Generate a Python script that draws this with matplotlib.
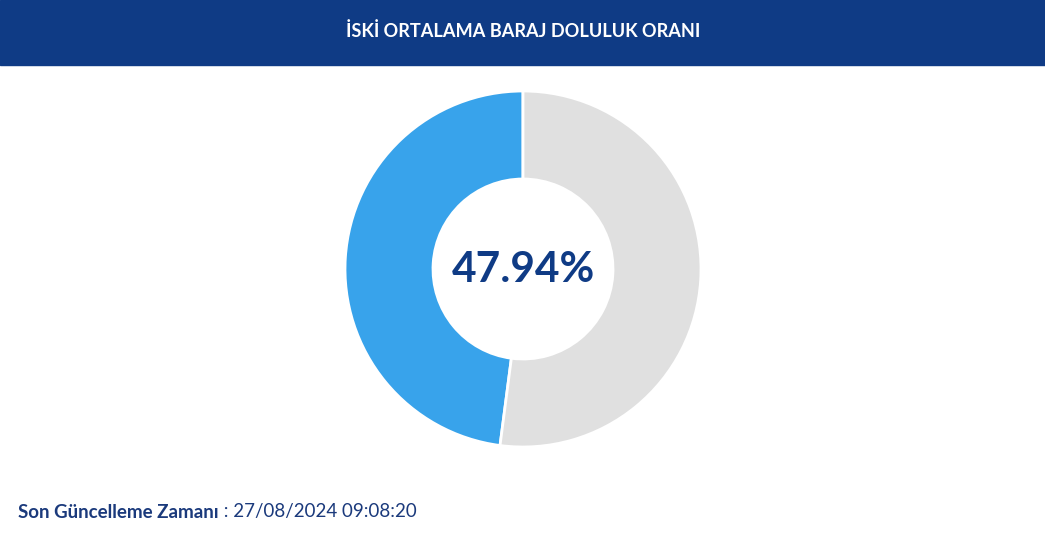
import matplotlib
matplotlib.use("Agg")
import matplotlib.pyplot as plt
from matplotlib.patches import Rectangle

title = "İSKİ ORTALAMA BARAJ DOLULUK ORANI"
labels = ["Dolu", "Boş"]
values = [47.94, 52.06]
colors = ["#38a3eb", "#e0e0e0"]
center_label = "47.94%"
footer_bold = "Son Güncelleme Zamanı"
footer_rest = " : 27/08/2024 09:08:20"

W, H = 1045, 543
fig = plt.figure(figsize=(W / 100, H / 100), dpi=100)
ax = fig.add_axes([0, 0, 1, 1])
ax.set_xlim(0, W)
ax.set_ylim(0, H)
ax.axis("off")

navy = "#0f3b85"
ax.add_patch(Rectangle((0, H - 65), W, 65, color=navy, zorder=0))
ax.text(523, H - 31, title, color="white", fontsize=13.1, fontweight="bold",
        family=["Lato", "DejaVu Sans"], ha="center", va="center")

ax.pie(values, colors=colors, startangle=90, counterclock=True,
       center=(523, H - 269), radius=178, frame=True,
       wedgeprops=dict(width=88, edgecolor="white", linewidth=2))
ax.set_xlim(0, W)
ax.set_ylim(0, H)
ax.set_aspect("auto")
ax.axis("off")

ax.text(523, H - 270, center_label, color=navy, fontsize=30.5, fontweight="bold",
        family=["Lato", "DejaVu Sans"], ha="center", va="center")

t1 = ax.text(18, H - 512, footer_bold, color="#1b3a7c", fontsize=13.5,
             fontweight="bold", family=["Lato", "DejaVu Sans"], ha="left", va="center")
fig.canvas.draw()
bb = t1.get_window_extent()
ax.text(bb.x1, H - 512, footer_rest, color="#1b3a7c", fontsize=13.5,
        family=["Lato", "DejaVu Sans"], ha="left", va="center")

fig.savefig("out.png", dpi=100)
